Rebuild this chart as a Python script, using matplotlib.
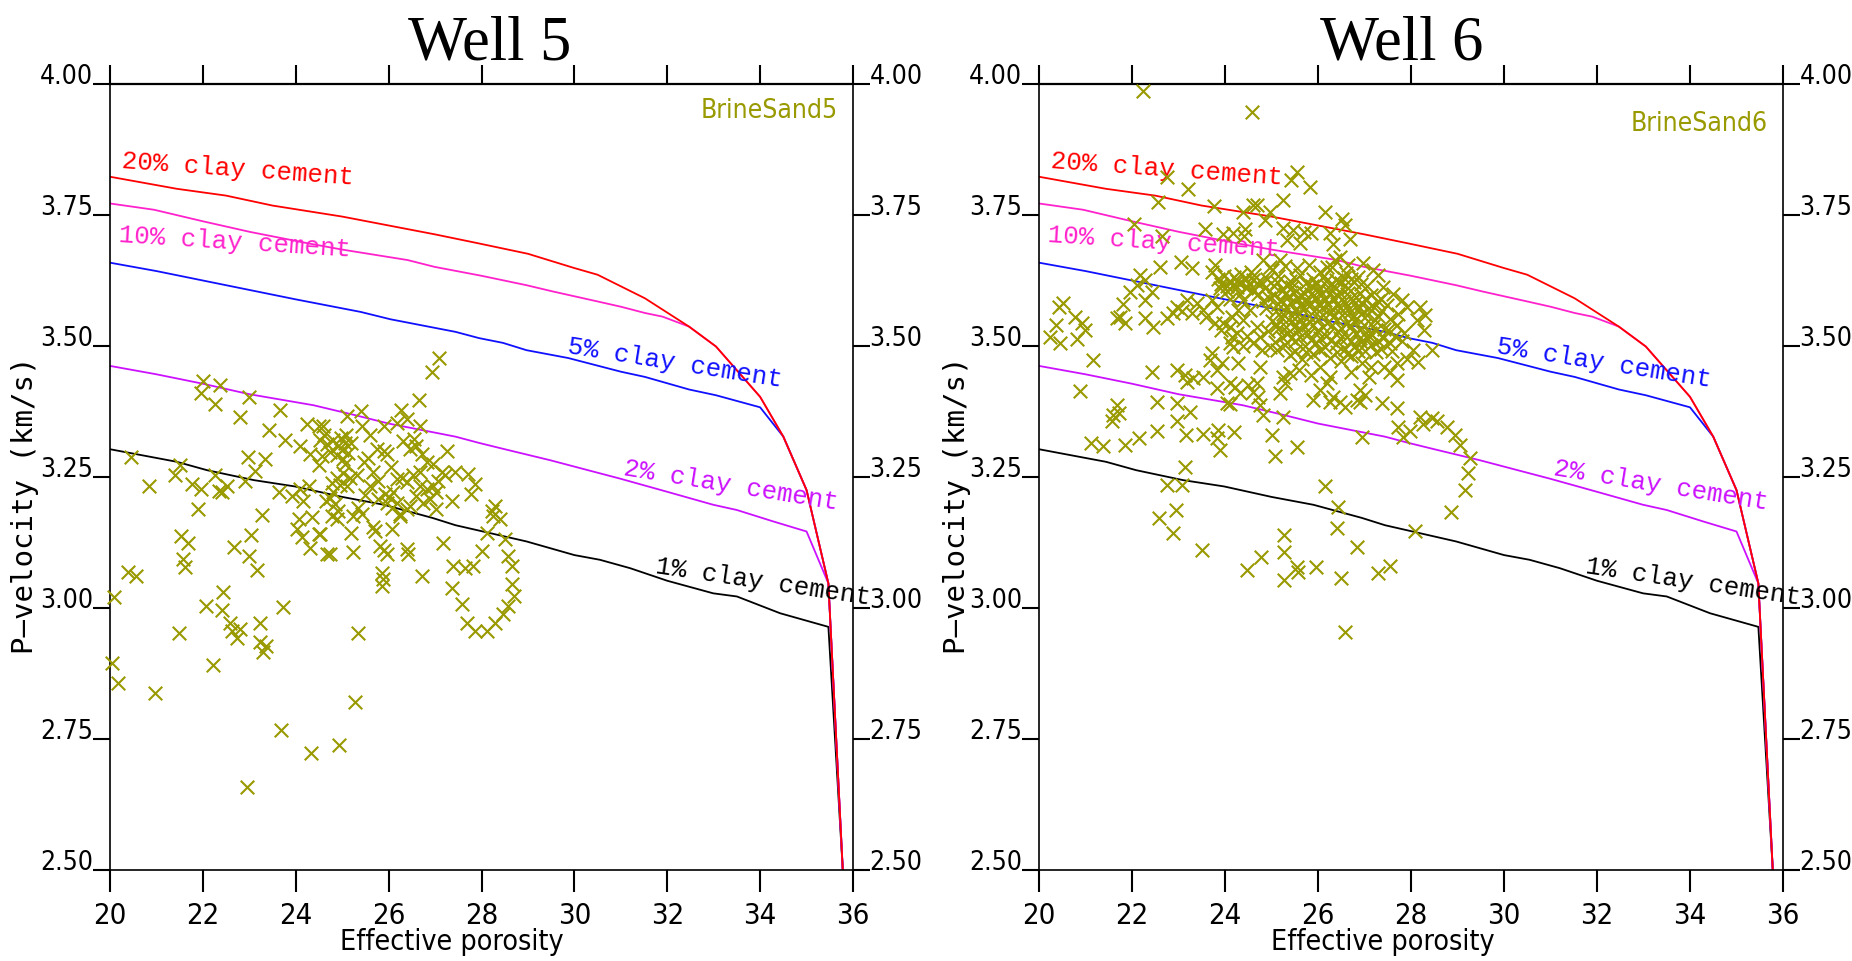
import numpy as np
import matplotlib
matplotlib.use("Agg")
import matplotlib.pyplot as plt
import matplotlib.font_manager as fm

W, H = 1852, 961
MONO = ['Liberation Mono', 'DejaVu Sans Mono']


def find_narrow():
    # a narrow sans face for the tick labels, like the original plot
    found = []
    for f in fm.fontManager.ttflist:
        n = f.name.lower()
        p = f.fname.lower()
        if 'mono' in n or 'serif' in n or 'bold' in p or 'italic' in p or 'oblique' in p:
            continue
        if f.style != 'normal':
            continue
        if not ('narrow' in n or 'narrow' in p or 'condensed' in n or 'condensed' in p
                or f.stretch in ('condensed', 'semi-condensed', 'extra-condensed')):
            continue
        rank = 0 if 'liberation' in n else (1 if 'dejavu' in n else 2)
        if f.weight not in (400, 'normal', 'regular'):
            rank += 3
        found.append((rank, f.fname))
    found.sort()
    return found[0][1] if found else None


NARROW_FILE = find_narrow()


def narrow(size):
    if NARROW_FILE:
        return fm.FontProperties(fname=NARROW_FILE, size=size)
    return fm.FontProperties(family='DejaVu Sans', size=size * 0.85)


# ---------------- cement model curves (same in both panels) ----------------
c20_x = [20, 21.44, 22.5, 23.5, 25.0, 26.0, 27.0, 27.93, 29.0, 29.99, 30.5, 31.52, 32.47, 33.05, 34.0, 34.5, 35.0, 35.47, 35.78]
c20_y = [3.823, 3.800, 3.787, 3.768, 3.747, 3.730, 3.713, 3.696, 3.676, 3.649, 3.636, 3.591, 3.537, 3.499, 3.403, 3.327, 3.225, 3.047, 2.50]
c10_x = [20, 20.95, 22.0, 23.0, 24.26, 25.0, 26.41, 26.99, 28.0, 28.97, 29.54, 30.5, 31.0, 31.52, 31.9, 32.47, 33.05, 34.0, 34.5, 35.0, 35.47, 35.78]
c10_y = [3.772, 3.760, 3.738, 3.718, 3.696, 3.684, 3.664, 3.651, 3.634, 3.616, 3.604, 3.585, 3.575, 3.563, 3.556, 3.537, 3.499, 3.403, 3.327, 3.225, 3.047, 2.50]
c5_x = [20, 21, 22, 23, 24, 25.4, 26.04, 27.44, 27.95, 28.46, 28.97, 29.87, 31.0, 31.52, 32.47, 33.05, 34.0, 34.5, 35.0, 35.47, 35.78]
c5_y = [3.659, 3.643, 3.625, 3.607, 3.589, 3.565, 3.551, 3.527, 3.515, 3.506, 3.492, 3.477, 3.451, 3.441, 3.417, 3.406, 3.383, 3.327, 3.225, 3.047, 2.50]
c2_x = [20, 21, 22, 23, 24.38, 25.28, 26.0, 27.44, 27.95, 28.5, 29.48, 30.55, 30.98, 31.99, 32.99, 33.5, 34.29, 35.0, 35.47, 35.78]
c2_y = [3.462, 3.446, 3.428, 3.408, 3.387, 3.368, 3.352, 3.327, 3.315, 3.303, 3.282, 3.257, 3.247, 3.222, 3.197, 3.187, 3.165, 3.146, 3.047, 2.50]
c1_x = [20, 21.44, 22.09, 23.1, 23.98, 25.0, 25.9, 26.94, 27.44, 28.97, 30.0, 30.55, 31.2, 32.0, 32.99, 33.5, 34.43, 35.47, 35.78]
c1_y = [3.303, 3.279, 3.263, 3.244, 3.232, 3.212, 3.197, 3.172, 3.158, 3.127, 3.101, 3.092, 3.076, 3.052, 3.028, 3.022, 2.990, 2.964, 2.50]

curves = [
    (c1_x, c1_y, 'black', "1% clay cement", 31.74, 3.066, -8.4),
    (c2_x, c2_y, '#cc11ff', "2% clay cement", 31.05, 3.254, -9.2),
    (c5_x, c5_y, '#1010ff', "5% clay cement", 29.83, 3.487, -9.0),
    (c10_x, c10_y, '#ff22cc', "10% clay cement", 20.17, 3.699, -3.6),
    (c20_x, c20_y, '#ff0000', "20% clay cement", 20.25, 3.839, -4.1),
]

# ---------------- Well 5 data (effective porosity %, Vp km/s) ----------------
phi5 = [22.01, 22.37, 21.96, 22.26, 22.99, 22.79, 23.66, 23.42, 23.77, 24.24, 24.49, 24.09, 24.31, 24.49, 24.6, 24.67,
        20.45, 22.98, 23.34, 21.51, 21.4, 22.26, 23.12, 22.91, 20.85, 21.77, 21.96, 22.35, 22.51, 22.41, 23.64, 23.91,
        24.09, 24.29, 24.16, 21.89, 23.27, 24.08, 24.34, 24.02, 24.13, 24.31, 24.49, 24.67, 21.53, 21.69, 23.04, 22.66,
        22.99, 23.17, 21.58, 21.62, 20.39, 20.55, 20.09, 22.43, 22.07, 22.41, 23.72, 22.58, 22.62, 22.8, 22.73, 23.23,
        23.22, 23.37, 23.3, 21.49, 22.21, 20.04, 20.18, 20.97, 23.68, 24.33, 22.94, 24.94, 25.27,
        27.09, 26.94, 26.65, 26.27, 25.4, 25.1, 25.42, 25.89, 26.17, 26.68, 26.4,
        24.8, 24.92, 25.0, 25.06, 25.13, 24.88, 24.74, 25.02, 24.98, 25.08, 24.52, 24.56, 24.59,
        25.6, 25.74, 25.89, 25.96, 25.46, 25.31, 25.17, 25.02, 24.88, 24.77, 24.95, 25.1,
        24.8, 24.74, 24.84, 24.66, 24.92, 24.77, 25.35, 25.42, 25.24, 24.88, 25.67, 25.78, 25.6,
        25.78, 25.96, 26.07, 26.17, 26.28, 26.39, 26.53, 26.68, 26.46, 26.6, 26.71, 26.82, 26.96,
        26.68, 26.82, 26.96, 27.07, 27.14, 27.21, 27.03, 26.89, 26.75, 26.6, 26.39, 26.25, 26.46, 26.17,
        26.0, 26.1, 25.92, 27.03, 27.36, 27.43, 27.72, 27.86, 27.77,
        28.29, 28.22, 28.25, 28.4, 28.11, 28.51, 28.58, 28.65, 28.65, 28.69, 28.58, 28.47, 28.29, 28.11, 27.86,
        27.68, 27.57, 27.36, 27.39, 27.64, 27.82, 28.0, 27.18, 26.71, 25.85, 25.85, 25.87, 25.81, 25.96, 25.89,
        26.39, 26.42, 25.67, 25.71, 26.07, 25.24, 24.74, 25.2, 24.52, 25.35, 26.25,
        25.2, 25.55, 26.3, 26.55, 27.25, 26.05, 25.5, 25.05]
vp5 = [3.433, 3.426, 3.411, 3.39, 3.402, 3.365, 3.377, 3.34, 3.32, 3.352, 3.348, 3.31, 3.294, 3.272, 3.33, 3.313,
       3.288, 3.288, 3.284, 3.272, 3.253, 3.253, 3.262, 3.243, 3.232, 3.237, 3.227, 3.224, 3.233, 3.221, 3.221, 3.214,
       3.227, 3.233, 3.205, 3.189, 3.178, 3.17, 3.173, 3.15, 3.135, 3.115, 3.141, 3.103, 3.138, 3.124, 3.14, 3.117,
       3.1, 3.073, 3.094, 3.079, 3.068, 3.061, 3.021, 3.031, 3.004, 2.997, 3.002, 2.972, 2.956, 2.959, 2.943, 2.971,
       2.935, 2.928, 2.916, 2.953, 2.892, 2.895, 2.857, 2.838, 2.768, 2.723, 2.659, 2.739, 2.82,
       3.477, 3.45, 3.396, 3.378, 3.376, 3.366, 3.348, 3.347, 3.353, 3.348, 3.361,
       3.32, 3.31, 3.302, 3.314, 3.296, 3.292, 3.298, 3.285, 3.325, 3.33, 3.32, 3.29, 3.348,
       3.33, 3.304, 3.3, 3.294, 3.278, 3.254, 3.248, 3.258, 3.248, 3.238, 3.235, 3.232,
       3.222, 3.21, 3.198, 3.204, 3.185, 3.176, 3.19, 3.18, 3.175, 3.17, 3.259, 3.243, 3.233,
       3.208, 3.2, 3.19, 3.246, 3.249, 3.24, 3.253, 3.259, 3.304, 3.31, 3.294, 3.278, 3.275,
       3.233, 3.227, 3.233, 3.243, 3.259, 3.253, 3.221, 3.208, 3.2, 3.214, 3.189, 3.179, 3.195, 3.2,
       3.212, 3.222, 3.218, 3.189, 3.205, 3.259, 3.256, 3.237, 3.217,
       3.195, 3.186, 3.176, 3.17, 3.144, 3.131, 3.1, 3.08, 3.045, 3.023, 3.004, 2.988, 2.972, 2.956, 2.956,
       2.972, 3.007, 3.039, 3.08, 3.077, 3.08, 3.109, 3.125, 3.061, 3.067, 3.042, 3.055, 3.119, 3.103, 3.11,
       3.112, 3.103, 3.154, 3.147, 3.15, 3.106, 3.103, 3.144, 3.141, 2.953, 3.176,
       3.315, 3.286, 3.318, 3.322, 3.3, 3.27, 3.215, 3.275]

# ---------------- Well 6 data ----------------
phi6 = [22.23, 24.57, 22.75, 23.21, 22.55, 23.77, 24.39, 24.61, 22.05, 22.64, 23.57, 23.96, 24.18, 24.43, 24.4, 23.05,
        22.6, 23.28, 22.17, 22.28, 22.1, 22.44, 22.27, 21.96, 21.81, 21.74, 21.85, 21.67, 22.28, 22.46, 22.75, 20.44,
        20.52, 20.37, 20.24, 20.45, 20.77, 20.92, 20.99, 20.81, 21.17, 20.88, 22.44, 22.96, 23.14, 23.32, 23.18,
        23.71, 23.67, 23.82, 23.93, 23.53, 23.82, 24.11, 24.22, 24.32, 24.5, 24.61, 24.11, 24.29, 24.18, 24.14,
        23.96, 24.14, 24.29, 23.9, 24.04, 24.18, 24.32, 24.47, 24.61, 24.11, 24.39, 24.68, 23.71, 23.82, 23.53, 23.39,
        23.18, 22.96, 22.89, 23.07, 23.28, 23.6, 23.78, 23.92, 24.11, 24.25, 24.39, 24.54, 24.68, 24.47, 24.61, 24.11,
        24.39, 23.78, 23.71,
        25.54, 25.43, 25.83, 25.25, 24.68, 24.97, 24.86, 26.15, 26.51, 26.58, 26.69, 25.25, 25.47, 25.69, 25.86,
        25.33, 25.61, 26.26, 26.33, 26.37, 26.47, 26.19, 26.65, 26.97, 27.19, 27.3, 25.18, 24.97, 24.82,
        27.62, 27.8, 27.91, 27.73, 28.2, 28.3, 28.12, 28.27, 28.45, 28.05, 28.16, 27.91, 27.69, 27.55, 27.41, 27.69,
        26.9, 27.01, 26.83, 26.47, 26.04, 26.19, 26.33, 26.26, 25.25, 25.4, 25.29, 25.18, 24.75, 24.68,
        24.72, 24.75, 24.79, 24.97, 25.11, 28.2, 28.45,
        25.0, 25.3, 25.55, 25.8, 26.05, 26.3, 26.6, 26.85,
        24.9, 25.15, 25.4, 25.62, 25.9, 26.12, 26.38, 26.55, 26.78, 27.05, 27.4,
        24.85, 25.05, 25.25, 25.45, 25.68, 25.88, 26.02, 26.22, 26.45, 26.65, 26.9, 27.15, 27.35,
        24.95, 25.2, 25.38, 25.58, 25.75, 25.95, 26.15, 26.32, 26.55, 26.72, 26.95, 27.2, 27.48,
        24.88, 25.1, 25.32, 25.5, 25.7, 25.92, 26.08, 26.28, 26.48, 26.68, 26.85, 27.05, 27.3, 27.55,
        25.02, 25.22, 25.42, 25.62, 25.82, 26.0, 26.2, 26.4, 26.6, 26.78, 26.98, 27.18, 27.42,
        24.92, 25.15, 25.35, 25.55, 25.78, 25.98, 26.18, 26.42, 26.62, 26.82, 27.08, 27.3,
        25.08, 25.3, 25.5, 25.72, 25.95, 26.15, 26.38, 26.58, 26.8, 27.02, 27.25,
        25.4, 25.65, 25.9, 26.25, 26.5, 26.72, 26.95, 27.15, 25.6, 25.85, 26.05, 26.7, 27.1,
        25.12, 25.33, 25.52, 25.74, 25.96, 26.18, 26.35, 26.5, 26.7, 26.92,
        25.06, 25.28, 25.48, 25.66, 25.84, 26.06, 26.26, 26.42, 26.62, 26.82, 27.02, 27.28,
        25.15, 25.42, 25.62, 25.85, 26.02, 26.22, 26.4, 26.62, 26.8, 27.1, 27.38,
        25.25, 25.45, 25.6, 25.8, 26.1, 26.32, 26.52, 26.75, 26.92, 27.22,
        25.12, 25.32, 25.52, 25.7, 25.9, 26.1, 26.3, 26.5, 26.7, 26.9, 27.12,
        25.22, 25.42, 25.62, 25.85, 26.05, 26.28, 26.48, 26.7, 26.92, 27.15,
        24.25, 24.45, 24.62, 24.78, 24.55, 24.35, 24.7, 24.82,
        25.5, 25.75, 26.05, 26.4, 26.62, 26.85,
        23.85, 23.98, 24.1, 24.2, 24.3, 24.42, 24.52, 24.6, 24.05, 24.25, 24.45, 23.92,
        27.5, 27.65, 27.8, 27.55, 27.7, 27.4, 27.85, 27.35, 27.6, 27.1, 26.9, 27.25,
        21.67, 21.6, 21.56, 21.71, 22.53, 22.96, 22.96, 23.25, 21.12, 21.37, 21.84, 22.14, 22.53, 23.16, 23.53,
        23.86, 23.82, 23.89, 24.19, 24.04, 24.75, 24.82, 25.25, 25.0, 25.07, 25.54, 25.9, 26.26, 26.58, 26.9,
        27.37, 27.69, 26.94, 27.73, 27.83, 27.98, 28.26, 28.55, 28.77, 28.95, 29.05, 29.27, 29.23, 29.16, 28.87,
        28.09, 26.15, 26.44, 26.4, 26.83, 23.14, 22.75, 23.07, 22.94, 22.57, 22.89, 23.5, 24.48, 24.77, 25.27,
        25.27, 25.27, 25.54, 25.58, 25.96, 26.49, 27.29, 27.55, 26.58]
vp6 = [3.987, 3.947, 3.823, 3.80, 3.774, 3.767, 3.756, 3.769, 3.733, 3.709, 3.723, 3.714, 3.715, 3.723, 3.709, 3.661,
       3.65, 3.649, 3.635, 3.626, 3.616, 3.604, 3.588, 3.604, 3.581, 3.556, 3.543, 3.553, 3.553, 3.537, 3.553, 3.575,
       3.582, 3.54, 3.518, 3.505, 3.556, 3.543, 3.53, 3.514, 3.474, 3.415, 3.451, 3.454, 3.445, 3.438, 3.432,
       3.486, 3.473, 3.454, 3.467, 3.441, 3.419, 3.429, 3.422, 3.41, 3.426, 3.413, 3.39, 3.467, 3.499, 3.518,
       3.544, 3.556, 3.569, 3.61, 3.605, 3.615, 3.6, 3.612, 3.605, 3.59, 3.588, 3.62, 3.588, 3.575, 3.569, 3.582,
       3.588, 3.575, 3.563, 3.566, 3.563, 3.556, 3.543, 3.531, 3.537, 3.524, 3.55, 3.569, 3.537, 3.52, 3.505, 3.505,
       3.5, 3.654, 3.642,
       3.833, 3.817, 3.804, 3.779, 3.769, 3.756, 3.74, 3.756, 3.743, 3.731, 3.705, 3.725, 3.721, 3.718, 3.715,
       3.702, 3.696, 3.715, 3.695, 3.664, 3.67, 3.651, 3.654, 3.658, 3.645, 3.635, 3.664, 3.651, 3.664,
       3.6, 3.588, 3.575, 3.562, 3.575, 3.559, 3.55, 3.53, 3.492, 3.492, 3.47, 3.476, 3.467, 3.451, 3.46, 3.435,
       3.416, 3.406, 3.397, 3.394, 3.416, 3.429, 3.403, 3.441, 3.441, 3.448, 3.429, 3.41, 3.46, 3.429,
       3.403, 3.518, 3.492, 3.499, 3.492, 3.365, 3.362,
       3.645, 3.652, 3.648, 3.655, 3.642, 3.650, 3.640, 3.632,
       3.628, 3.633, 3.625, 3.636, 3.628, 3.634, 3.626, 3.630, 3.622, 3.615, 3.612,
       3.61, 3.615, 3.606, 3.612, 3.604, 3.614, 3.607, 3.612, 3.604, 3.611, 3.602, 3.598, 3.59,
       3.592, 3.588, 3.595, 3.59, 3.584, 3.594, 3.588, 3.592, 3.585, 3.592, 3.58, 3.575, 3.578,
       3.572, 3.566, 3.574, 3.568, 3.574, 3.566, 3.572, 3.565, 3.572, 3.564, 3.57, 3.56, 3.558, 3.552,
       3.548, 3.554, 3.545, 3.552, 3.546, 3.552, 3.544, 3.55, 3.542, 3.548, 3.54, 3.538, 3.532,
       3.528, 3.532, 3.524, 3.53, 3.522, 3.528, 3.52, 3.526, 3.518, 3.524, 3.514, 3.51,
       3.508, 3.502, 3.51, 3.5, 3.506, 3.498, 3.504, 3.495, 3.5, 3.49, 3.488,
       3.482, 3.475, 3.485, 3.478, 3.472, 3.48, 3.468, 3.46, 3.455, 3.445, 3.46, 3.45, 3.44,
       3.622, 3.617, 3.628, 3.62, 3.618, 3.625, 3.614, 3.62, 3.628, 3.618,
       3.598, 3.6, 3.602, 3.596, 3.6, 3.598, 3.602, 3.596, 3.6, 3.594, 3.59, 3.585,
       3.58, 3.582, 3.578, 3.58, 3.582, 3.578, 3.58, 3.576, 3.582, 3.572, 3.566,
       3.562, 3.558, 3.562, 3.558, 3.56, 3.556, 3.56, 3.555, 3.562, 3.55,
       3.54, 3.536, 3.54, 3.538, 3.54, 3.536, 3.54, 3.535, 3.538, 3.53, 3.525,
       3.518, 3.515, 3.518, 3.512, 3.516, 3.512, 3.515, 3.51, 3.508, 3.502,
       3.625, 3.628, 3.635, 3.622, 3.642, 3.638, 3.6, 3.585,
       3.49, 3.488, 3.492, 3.488, 3.485, 3.49,
       3.628, 3.634, 3.625, 3.632, 3.62, 3.63, 3.618, 3.626, 3.615, 3.612, 3.61, 3.618,
       3.53, 3.52, 3.51, 3.505, 3.54, 3.515, 3.525, 3.495, 3.49, 3.52, 3.515, 3.53,
       3.387, 3.368, 3.356, 3.372, 3.394, 3.391, 3.356, 3.375, 3.314, 3.31, 3.312, 3.324, 3.337, 3.33, 3.333,
       3.34, 3.324, 3.302, 3.335, 3.391, 3.387, 3.368, 3.365, 3.33, 3.29, 3.308, 3.397, 3.394, 3.384, 3.394,
       3.391, 3.381, 3.327, 3.346, 3.327, 3.337, 3.352, 3.356, 3.346, 3.33, 3.311, 3.286, 3.257, 3.225, 3.184,
       3.146, 3.232, 3.193, 3.152, 3.117, 3.27, 3.235, 3.235, 3.187, 3.171, 3.143, 3.111, 3.073, 3.098, 3.139,
       3.107, 3.053, 3.079, 3.069, 3.078, 3.057, 3.067, 3.08, 2.955]

x_ticks = [20, 22, 24, 26, 28, 30, 32, 34, 36]
y_ticks = [2.50, 2.75, 3.00, 3.25, 3.50, 3.75, 4.00]
OLIVE = '#999900'


def draw_panel(ax, phi, vp, tag, tag_y):
    for cx, cy, col, lab, lx, ly, rot in curves:
        ax.plot(cx, cy, c=col, lw=1.3, zorder=2)
        ax.text(lx, ly, lab, color=col, family=MONO, fontsize=18.5, rotation=rot,
                rotation_mode='anchor', ha='left', va='baseline', clip_on=False, zorder=3)
    ax.scatter(phi, vp, marker='x', s=95, c=OLIVE, linewidths=1.5, zorder=4, clip_on=False)
    ax.text(0.98, tag_y, tag, transform=ax.transAxes, ha='right', va='baseline',
            color=OLIVE, fontproperties=narrow(19))

    ax.set_xlim(20, 36)
    ax.set_ylim(2.5, 4.0)
    ax.set_xticks(x_ticks)
    ax.set_yticks(y_ticks)
    ax.set_xticklabels([str(v) for v in x_ticks], fontproperties=narrow(21))
    ax.set_yticklabels(["%.2f" % v for v in y_ticks], fontproperties=narrow(19))
    ax.tick_params(axis='x', which='major', direction='out', bottom=True, top=True,
                   labelbottom=True, labeltop=False, width=1.5, pad=7, length=16)
    ax.tick_params(axis='y', which='major', direction='out', left=True, right=True,
                   labelleft=True, labelright=True, length=12, width=1.5, pad=0)
    for t in ax.yaxis.get_major_ticks():
        t.label1.set_va('baseline')
        t.label2.set_va('baseline')
        t.label2.set_fontproperties(narrow(19))
    for t in ax.xaxis.get_major_ticks():
        t.tick2line.set_markersize(14)
    for s in ax.spines.values():
        s.set_linewidth(1.2)
    ax.spines['top'].set_linewidth(1.6)


fig = plt.figure(figsize=(W / 100, H / 100), dpi=100)
axL = fig.add_axes([110 / W, 1 - 870 / H, 743 / W, 786 / H])
axR = fig.add_axes([1039 / W, 1 - 870 / H, 744 / W, 786 / H])

draw_panel(axL, phi5, vp5, "BrineSand5", 0.957)
draw_panel(axR, phi6, vp6, "BrineSand6", 0.940)

for cx, title in [(490, "Well 5"), (1402, "Well 6")]:
    fig.text(cx / W, 1 - 59 / H, title, ha='center', va='baseline',
             family=['Liberation Serif', 'DejaVu Serif'], fontsize=45)
for cx in [452, 1383]:
    fig.text(cx / W, 1 - 950 / H, "Effective porosity", ha='center', va='baseline',
             fontproperties=narrow(20.5))
for cx in [25, 957]:
    fig.text(cx / W, 1 - 505 / H, "P\u2014velocity (km/s)", ha='center', va='center',
             rotation=90, family=['DejaVu Sans Mono'], fontsize=21)

fig.savefig("out.png", dpi=100)
plt.close(fig)
